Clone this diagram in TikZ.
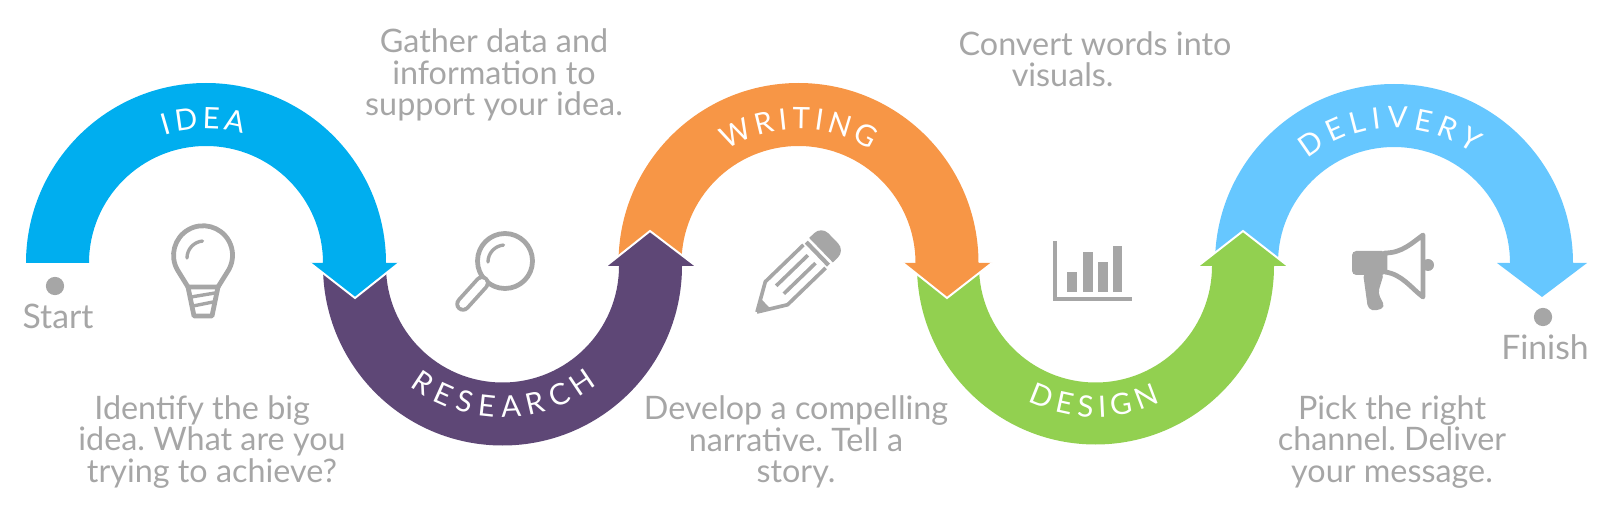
\documentclass[tikz,border=0pt]{standalone}
\usepackage{fontspec}
\setmainfont{Lato}
\usetikzlibrary{decorations.text}
\definecolor{ideablue}{HTML}{00AEEF}
\definecolor{researchpurple}{HTML}{5E4776}
\definecolor{writingorange}{HTML}{F79646}
\definecolor{designgreen}{HTML}{92D050}
\definecolor{deliveryblue}{HTML}{66C7FF}
\definecolor{icongray}{HTML}{A6A6A6}
\newcommand{\labelfont}{\fontsize{21}{21}\selectfont\color{white}}
\tikzset{
  bodytext/.style={text=icongray, align=center, inner sep=0pt, font=\fontsize{23}{22.4}\selectfont\frenchspacing},
  endtext/.style={text=icongray, inner sep=0pt, font=\fontsize{24}{24}\selectfont},
  enddot/.style={circle, fill=icongray, minimum size=13pt, inner sep=0pt},
  iconline/.style={draw=icongray, line width=3.4pt, line join=round, line cap=round},
  iconfill/.style={fill=icongray},
  headedge/.style={draw=white, line width=1.4pt},
  bandtext/.style={decorate, decoration={text along path, text={|\labelfont|#1}, text align=fit to path}}
}
\begin{document}
\begin{tikzpicture}[x=0.025cm, y=0.025cm]
\useasboundingbox (0,0) rectangle (1600,521);

\fill[deliveryblue] (1215,258) arc (180:0:179) -- (1587,258) -- (1542,224) -- (1497,258)
       -- (1510,258) arc (0:180:116) -- cycle;
\fill[designgreen] (917,255) arc (180:360:178.5) -- (1288,255) -- (1243,290) -- (1198,255)
       -- (1212,255) arc (360:180:116.5) -- cycle;
\draw[headedge] (1198,255) -- (1243,290) -- (1288,255);
\fill[writingorange] (618.5,258) arc (180:0:180) -- (992,258) -- (947,223) -- (903,258)
       -- (915.5,258) arc (0:180:117) -- cycle;
\draw[headedge] (903,258) -- (947,223) -- (992,258);
\fill[researchpurple] (323,255) arc (180:360:179.5) -- (696,255) -- (650,290) -- (606,255)
       -- (619,255) arc (360:180:116.5) -- cycle;
\draw[headedge] (606,255) -- (650,290) -- (696,255);
\fill[ideablue] (26,258) arc (180:0:180) -- (399,258) -- (355,223) -- (310,258)
       -- (323,258) arc (0:180:117) -- cycle;
\draw[headedge] (310,258) -- (355,223) -- (399,258);

\path[bandtext={IDEA}] ([shift={(108:134)}]206,258) arc (108:74:134);
\path[bandtext={RESEARCH}] ([shift={(233:154)}]502.5,258) arc (233:308:154);
\path[bandtext={WRITING}] ([shift={(122.5:134)}]798.5,258) arc (122.5:57.5:134);
\path[bandtext={DESIGN}] ([shift={(244:154)}]1095.5,258) arc (244:295:154);
\path[bandtext={DELIVERY}] ([shift={(129.5:135)}]1394,258) arc (129.5:54:135);

\node[enddot] (startdot) at (55,235) {};
\node[endtext] (starttext) at (58,205) {Start};
\node[enddot] (finishdot) at (1543,204) {};
\node[endtext] (finishtext) at (1545,174) {Finish};

\node[bodytext] (ideatext) at (212,79) {Identify the big\hspace*{14pt}\\idea. What are you\\trying to achieve?};
\node[bodytext] (researchtext) at (494,446) {Gather data and\\information to\\support your idea.};
\node[bodytext] (writingtext) at (796,79) {Develop a compelling\\narrative. Tell a\\story.};
\node[bodytext] (designtext) at (1095,462) {Convert words into\\visuals.\hspace*{46pt}};
\node[bodytext] (deliverytext) at (1392,79) {Pick the right\\channel. Deliver\\your message.};

\draw[iconline] (188,234) -- (177.5,251) arc (210:-30:29.5) -- (218,234) -- cycle;
\draw[iconline] (188,234) -- (194,205) -- (212,205) -- (218,234);
\draw[iconline, line width=2.4pt] (191,224) -- (215,228);
\draw[iconline, line width=2.4pt] (193,215) -- (213,219);
\draw[iconline, line width=2.4pt] (187,263) arc (180:95:17);

\draw[iconline] (505,260) circle (27.5);
\draw[iconline, line width=2.4pt] (488,259) arc (180:95:17);
\draw[iconline, line width=11pt] (482,238) -- (463,217);
\draw[draw=white, line width=5.5pt, line cap=round] (482,238) -- (463,217);

\begin{scope}[shift={(757,209)}, rotate=44]
\draw[icongray, line width=2.6pt, line join=round] (0,0) -- (27,16) -- (80,16);
\draw[icongray, line width=2.6pt, line join=round] (0,0) -- (27,-16) -- (80,-16);
\fill[icongray] (0,0) -- (12,7) -- (12,-7) -- cycle;
\draw[icongray, line width=2.6pt] (32,5.5) -- (76,5.5);
\draw[icongray, line width=2.6pt] (32,-5.5) -- (76,-5.5);
\draw[icongray, line width=3pt] (84,-16) -- (84,16);
\fill[icongray] (89,-17) -- (96,-17) arc (-90:0:10) -- (106,7) arc (0:90:10) -- (89,17) -- cycle;
\end{scope}

\draw[icongray, line width=3.2pt] (1055,280) -- (1055,222) -- (1132,222);
\fill[iconfill] (1067,229) rectangle (1077,249);
\fill[iconfill] (1083,229) rectangle (1093,269);
\fill[iconfill] (1098,229) rectangle (1108,259);
\fill[iconfill] (1113,229) rectangle (1122,275);

\draw[iconline] (1385,268) .. controls (1402,268) and (1412,278) .. (1423,286) -- (1423,224)
       .. controls (1412,232) and (1402,247) .. (1385,249) -- cycle;
\fill[iconfill, rounded corners=3pt] (1352,270) -- (1386,270) -- (1386,246) -- (1352,246) -- cycle;
\fill[iconfill, rounded corners=3pt] (1363,248) -- (1384,248) -- (1378,228) -- (1385,214) -- (1376,210) -- (1368,212) -- cycle;
\fill[iconfill] (1428,256) circle (6);
\end{tikzpicture}
\end{document}
